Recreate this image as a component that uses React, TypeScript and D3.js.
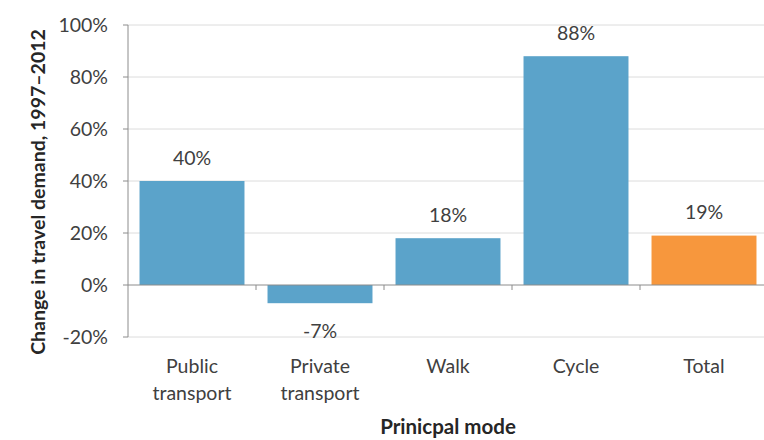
import React from "react";
import * as d3 from "d3";

const categories = ["Public transport", "Private transport", "Walk", "Cycle", "Total"];
const values = [40, -7, 18, 88, 19];
const barColors = ["#5ba3ca", "#5ba3ca", "#5ba3ca", "#5ba3ca", "#f7973d"];
const yTicks = [-20, 0, 20, 40, 60, 80, 100];
const xLabelLines = [["Public", "transport"], ["Private", "transport"], ["Walk"], ["Cycle"], ["Total"]];

const W = 764;
const H = 440;
const FONT = "Lato, 'Open Sans', sans-serif";
const FS = 19.5;

export default function App() {
  const x = d3.scaleBand<string>().domain(categories).range([128, 768]).paddingInner(0.18).paddingOuter(0.09);
  const y = d3.scaleLinear().domain([-20, 100]).range([337, 25]);
  const step = x.step();
  const bandStarts = categories.map((c) => (x(c) as number) - (step - x.bandwidth()) / 2);

  return (
    <svg width={W} height={H} style={{ position: "absolute", left: 0, top: 0, background: "#fff" }} fontFamily={FONT}>
      {yTicks.filter((t) => t !== 0).map((t) => (
        <line key={"g" + t} x1={128} x2={768} y1={y(t)} y2={y(t)} stroke="#dcdcdc" strokeWidth={1} />
      ))}
      {categories.map((c, i) => {
        const v = values[i];
        const y0 = y(0);
        const y1 = y(v);
        return (
          <rect key={c} x={x(c)} width={x.bandwidth()} y={Math.min(y0, y1)} height={Math.abs(y1 - y0)} fill={barColors[i]} />
        );
      })}
      <line x1={128} x2={768} y1={y(0)} y2={y(0)} stroke="#8c8c8c" strokeWidth={1} />
      {bandStarts.slice(1).map((bx, i) => (
        <line key={"ct" + i} x1={bx} x2={bx} y1={y(0)} y2={y(0) + 5} stroke="#8c8c8c" strokeWidth={1} />
      ))}
      <line x1={128} x2={128} y1={y(100)} y2={y(-20)} stroke="#8c8c8c" strokeWidth={1} />
      {yTicks.map((t) => (
        <g key={"t" + t}>
          <line x1={123} x2={128} y1={y(t)} y2={y(t)} stroke="#8c8c8c" strokeWidth={1} />
          <text x={108} y={y(t)} dy="0.35em" textAnchor="end" fontSize={FS} fill="#404040">
            {t + "%"}
          </text>
        </g>
      ))}
      {categories.map((c, i) => {
        const v = values[i];
        const cx = (x(c) as number) + x.bandwidth() / 2;
        const ly = v >= 0 ? y(v) - 23 : y(v) + 28;
        return (
          <text key={"v" + c} x={cx} y={ly} dy="0.35em" textAnchor="middle" fontSize={FS} fill="#404040">
            {v + "%"}
          </text>
        );
      })}
      {categories.map((c, i) => {
        const cx = (x(c) as number) + x.bandwidth() / 2;
        return (
          <text key={"xl" + c} x={cx} y={366} textAnchor="middle" fontSize={FS} fill="#404040">
            {xLabelLines[i].map((ln, j) => (
              <tspan key={j} x={cx} dy={j === 0 ? "0.35em" : 27}>
                {ln}
              </tspan>
            ))}
          </text>
        );
      })}
      <text x={448} y={427} dy="0.35em" textAnchor="middle" fontSize={20.5} fontWeight="bold" fill="#262626">
        Prinicpal mode
      </text>
      <text
        transform={`translate(38, 192) rotate(-90)`}
        dy="0.35em"
        textAnchor="middle"
        fontSize={19.5}
        fontWeight="bold"
        fill="#262626"
      >
        Change in travel demand, 1997–2012
      </text>
    </svg>
  );
}
